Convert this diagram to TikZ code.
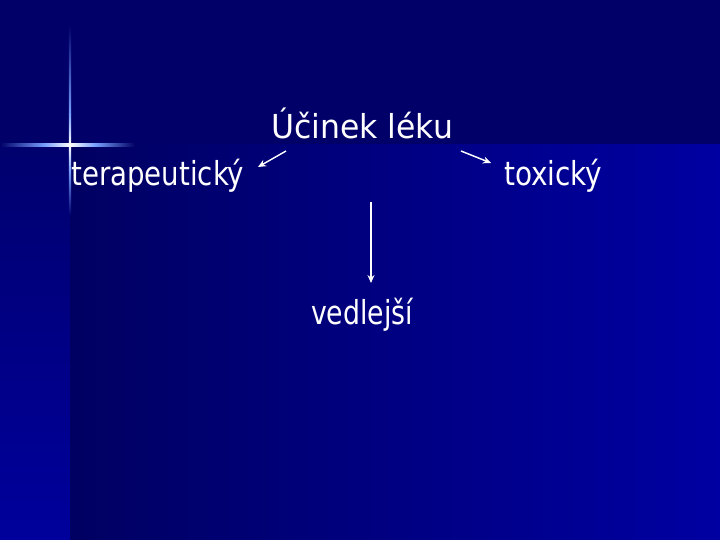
\documentclass[tikz,border=0pt]{standalone}
\usepackage{fontspec}
\setmainfont{DejaVu Sans Condensed}
\usetikzlibrary{arrows.meta}
\definecolor{bgtop}{RGB}{0,0,104}
\definecolor{mainL}{RGB}{0,0,98}
\definecolor{mainR}{RGB}{0,0,162}
\definecolor{stripT}{RGB}{0,0,110}
\definecolor{stripB}{RGB}{0,0,156}
\definecolor{glow}{RGB}{120,160,255}
\tikzset{
  lbl/.style={text=white, inner sep=0pt, font=\fontsize{33}{36}\selectfont},
  arr/.style={draw=white, line width=1.4pt, -{Stealth[length=8pt,width=7pt]}}
}
\begin{document}
\begin{tikzpicture}[x=1pt,y=-1pt]
\useasboundingbox (0,0) rectangle (720,540);
% background
\fill[bgtop] (0,0) rectangle (720,145);
\shade[top color=stripT, bottom color=stripB] (0,145) rectangle (70,540);
\shade[left color=mainL, right color=mainR] (70,145) rectangle (720,540);
% star
\shade[left color=bgtop, right color=glow] (0,143.8) rectangle (45,146.2);
\shade[left color=glow, right color=white] (45,143.8) rectangle (70,146.2);
\shade[left color=white, right color=glow] (70,143.8) rectangle (95,146.2);
\shade[left color=glow, right color=mainL] (95,143.8) rectangle (135,146.2);
\shade[top color=bgtop, bottom color=glow] (68.8,25) rectangle (71.2,115);
\shade[top color=glow, bottom color=white] (68.8,115) rectangle (71.2,145);
\shade[top color=white, bottom color=glow] (68.8,145) rectangle (71.2,170);
\shade[top color=glow, bottom color=stripT] (68.8,170) rectangle (71.2,215);
% labels
\node[lbl, anchor=base] (ucinek) at (362,139) {\scalebox{1.06}[1]{Účinek léku}};
\node[lbl, anchor=base west] (tera) at (71,186) {\scalebox{0.93}[1]{terapeutický}};
\node[lbl, anchor=base west] (toxic) at (504,186) {\scalebox{0.94}[1]{toxický}};
\node[lbl, anchor=base] (ved) at (362,324) {\scalebox{0.9}[1]{vedlejší}};
% connectors
\coordinate (l1) at (286,151);
\coordinate (l2) at (258,167);
\coordinate (r1) at (461,151);
\coordinate (r2) at (491,163);
\coordinate (d1) at (371,202);
\coordinate (d2) at (371,283);
\draw[arr] (l1) -- (l2);
\draw[arr] (r1) -- (r2);
\draw[arr] (d1) -- (d2);
\end{tikzpicture}
\end{document}
